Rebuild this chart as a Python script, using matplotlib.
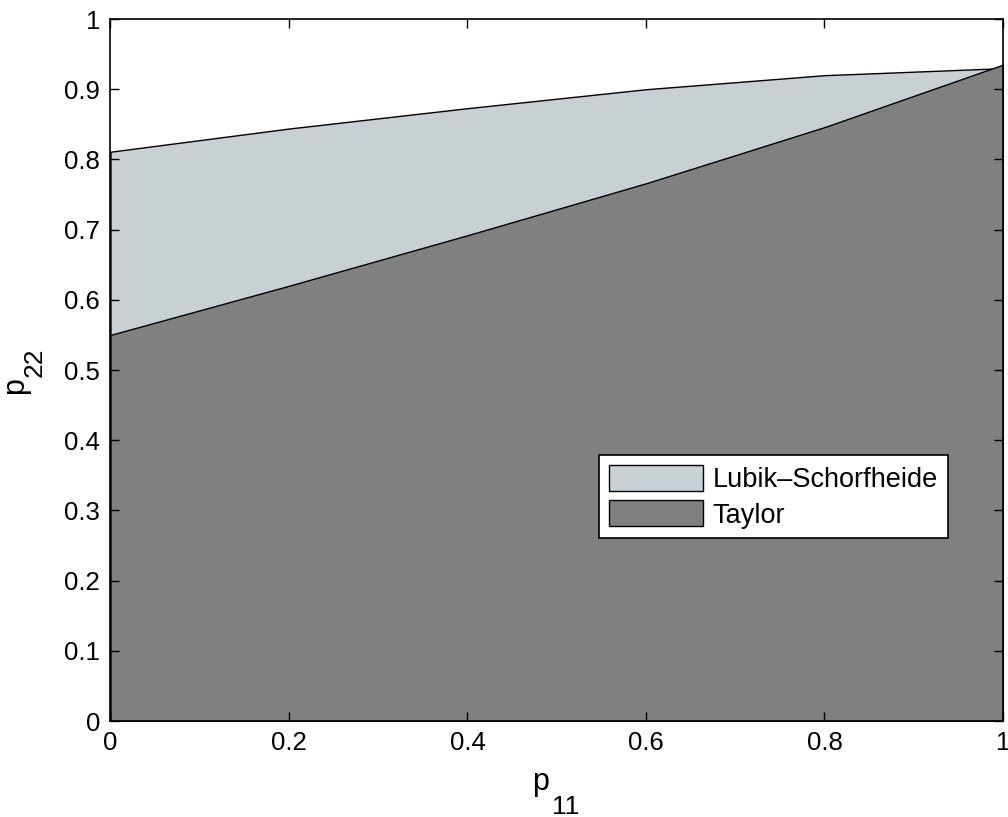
import numpy as np
import matplotlib.pyplot as plt
from matplotlib.patches import Patch

plt.rcParams['font.family'] = ['Liberation Sans', 'DejaVu Sans']

# upper boundaries of the determinacy regions on the p11 grid
p11 = [0.0, 0.2, 0.4, 0.6, 0.8, 1.0]
p22_lubik = [0.811, 0.844, 0.873, 0.900, 0.920, 0.930]
p22_taylor = [0.550, 0.620, 0.692, 0.766, 0.846, 0.935]

light = '#c8d0d4'
dark = '#808080'

W, H = 1008, 817
fig = plt.figure(figsize=(W / 100, H / 100), dpi=100)
ax = fig.add_axes([0.1096, 0.1175, 0.8854, 0.8592])

ax.fill_between(p11, 0, p22_lubik, facecolor=light, edgecolor='k', linewidth=1.0)
ax.fill_between(p11, 0, p22_taylor, facecolor=dark, edgecolor='k', linewidth=1.0)

ax.set_xlim(0, 1)
ax.set_ylim(0, 1)
ax.set_xticks(np.arange(0, 1.01, 0.2))
ax.set_yticks(np.arange(0, 1.01, 0.1))
ax.set_xticklabels(['0', '0.2', '0.4', '0.6', '0.8', '1'])
ax.set_yticklabels(['0', '0.1', '0.2', '0.3', '0.4', '0.5', '0.6', '0.7', '0.8', '0.9', '1'])
ax.tick_params(direction='in', length=6.5, width=1, labelsize=18.5,
               top=True, right=True, pad=7.5)
for s in ax.spines.values():
    s.set_linewidth(1.2)

# axis labels with full-size subscripts, placed in pixel units
def px(x, y):
    return x / W, 1 - y / H

fig.text(*px(532, 790), 'p', fontsize=22, ha='left', va='baseline')
fig.text(*px(552, 814), '11', fontsize=19, ha='left', va='baseline')
fig.text(*px(23, 394), 'p', fontsize=22, ha='left', va='baseline',
         rotation=90, rotation_mode='anchor')
fig.text(*px(42, 377), '22', fontsize=19, ha='left', va='baseline',
         rotation=90, rotation_mode='anchor')

handles = [Patch(facecolor=light, edgecolor='k', label='Lubik\u2013Schorfheide'),
           Patch(facecolor=dark, edgecolor='k', label='Taylor')]
leg = ax.legend(handles=handles, loc='upper left', bbox_to_anchor=(0.5474, 0.3789),
                borderaxespad=0, fontsize=19.5, frameon=True, fancybox=False,
                handlelength=3.47, handleheight=1.1, handletextpad=0.37,
                labelspacing=0.27, borderpad=0.36)
leg.get_frame().set_edgecolor('k')
leg.get_frame().set_linewidth(1.2)
leg.get_frame().set_alpha(1)

fig.savefig('out.png', dpi=100)
